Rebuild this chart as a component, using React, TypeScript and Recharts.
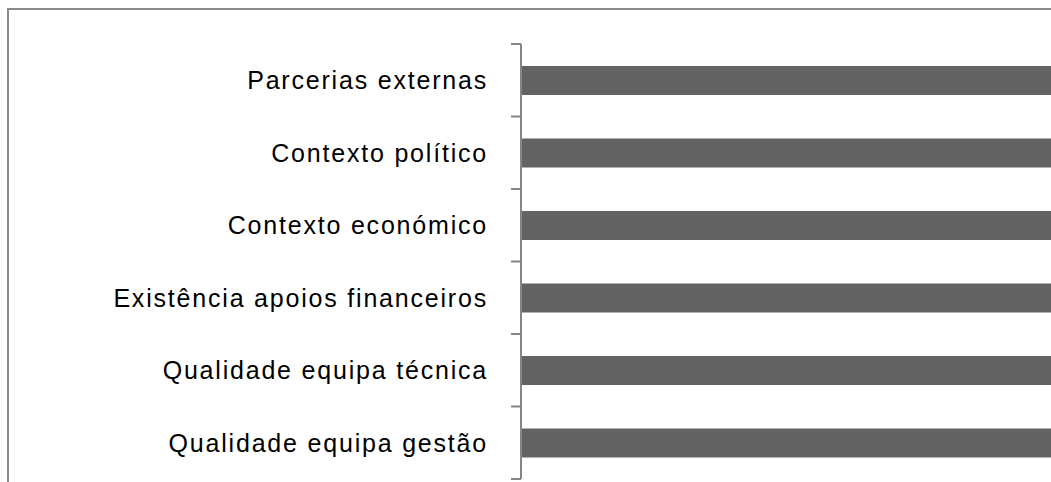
import { BarChart, Bar, XAxis, YAxis } from 'recharts';

const categories = [
  'Parcerias externas',
  'Contexto político',
  'Contexto económico',
  'Existência apoios financeiros',
  'Qualidade equipa técnica',
  'Qualidade equipa gestão',
];
const scores = [4.1, 4.3, 4.0, 4.2, 4.5, 4.6];

const data = categories.map((name, i) => ({ name, value: scores[i] }));

const AXIS = '#868686';
const TICK_SIZE = 10;
const TICK_MARGIN = 23;

// label at band centre, tick marks at band edges (like Excel's category axis)
function CategoryTick(props: any) {
  const { x, y, payload, index, visibleTicksCount } = props;
  const half = payload.offset || 0;
  const x2 = x + TICK_MARGIN + TICK_SIZE;
  const x1 = x2 - TICK_SIZE;
  return (
    <g>
      <line x1={x1} x2={x2} y1={y - half} y2={y - half} stroke={AXIS} strokeWidth={2} />
      {index === visibleTicksCount - 1 && (
        <line x1={x1} x2={x2} y1={y + half} y2={y + half} stroke={AXIS} strokeWidth={2} />
      )}
      <text
        x={x}
        y={y}
        textAnchor="end"
        dominantBaseline="central"
        fill="#000"
        fontSize={25}
        letterSpacing={1.8}
        fontFamily="Liberation Sans, Arial, sans-serif"
      >
        {payload.value}
      </text>
    </g>
  );
}

export default function App() {
  return (
    <div
      style={{
        position: 'fixed',
        left: 7,
        top: 8,
        width: 1044,
        height: 474,
        overflow: 'hidden',
        borderTop: '2px solid #8a8a8a',
        borderLeft: '2px solid #8a8a8a',
        background: '#fff',
      }}
    >
      <BarChart
        width={1600}
        height={472}
        data={data}
        layout="vertical"
        margin={{ top: 34, right: 0, bottom: 3, left: 0 }}
        barCategoryGap={0}
      >
        <XAxis type="number" domain={[0, 5]} hide />
        <YAxis
          type="category"
          dataKey="name"
          width={512}
          tickLine={false}
          tickSize={TICK_SIZE}
          tickMargin={TICK_MARGIN}
          axisLine={{ stroke: AXIS, strokeWidth: 2 }}
          tick={<CategoryTick />}
          interval={0}
        />
        <Bar dataKey="value" fill="#636363" barSize={29} isAnimationActive={false} />
      </BarChart>
    </div>
  );
}
